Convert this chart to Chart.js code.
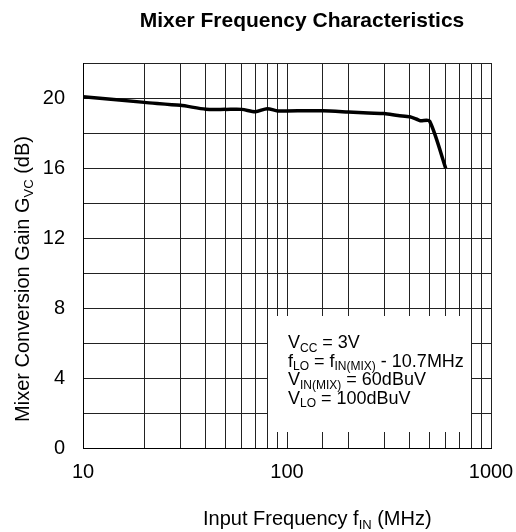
<!DOCTYPE html>
<html>
<head>
<meta charset="utf-8">
<script src="https://cdn.jsdelivr.net/npm/chart.js@4/dist/chart.umd.min.js"></script>
<style>
  html, body { margin: 0; padding: 0; background: #fff; }
  #wrap { width: 516px; height: 532px; }
</style>
</head>
<body>
<div id="wrap"><canvas id="mixer-chart" width="516" height="532"></canvas></div>
<script>
// data
const freqMHz = [10, 20, 30, 40, 50, 60, 70, 80, 90, 100, 150, 200, 250, 300, 350, 400, 430, 450, 500, 600];
const gainDb  = [20.07, 19.75, 19.58, 19.36, 19.35, 19.35, 19.22, 19.39, 19.26, 19.26, 19.27, 19.2, 19.14, 19.11, 19.0, 18.93, 18.8, 18.7, 18.68, 15.98];
const xTickLabels = [10, 100, 1000];
const yTickLabels = [0, 4, 8, 12, 16, 20];

const FONT = '"Liberation Sans", Arial, sans-serif';

// draw a run of text pieces, some as subscripts
function drawRich(ctx, parts, x, y, size, align) {
  const subSize = Math.round(size * 0.65);
  let total = 0;
  parts.forEach(p => {
    ctx.font = (p.sub ? subSize : size) + 'px ' + FONT;
    p.w = ctx.measureText(p.t).width;
    total += p.w;
  });
  let cx = align === 'center' ? x - total / 2 : x;
  ctx.textAlign = 'left';
  ctx.textBaseline = 'alphabetic';
  parts.forEach(p => {
    ctx.font = (p.sub ? subSize : size) + 'px ' + FONT;
    ctx.fillText(p.t, cx, p.sub ? y + size * 0.22 : y);
    cx += p.w;
  });
}

const labelsPlugin = {
  id: 'labels',
  afterDatasetsDraw(chart) {
    const ctx = chart.ctx;
    ctx.save();
    ctx.fillStyle = '#000';

    // title
    ctx.font = 'bold 21px ' + FONT;
    ctx.textAlign = 'center';
    ctx.textBaseline = 'middle';
    ctx.fillText('Mixer Frequency Characteristics', 302, 21);

    // conditions box
    ctx.fillStyle = '#fff';
    ctx.fillRect(268, 316, 203, 116);
    ctx.fillStyle = '#000';
    drawRich(ctx, [{t: 'V'}, {t: 'CC', sub: true}, {t: ' = 3V'}], 288, 348, 18);
    drawRich(ctx, [{t: 'f'}, {t: 'LO', sub: true}, {t: ' = f'}, {t: 'IN(MIX)', sub: true}, {t: ' - 10.7MHz'}], 288, 366.5, 18);
    drawRich(ctx, [{t: 'V'}, {t: 'IN(MIX)', sub: true}, {t: ' = 60dBuV'}], 288, 385, 18);
    drawRich(ctx, [{t: 'V'}, {t: 'LO', sub: true}, {t: ' = 100dBuV'}], 288, 403.5, 18);

    // x axis title
    drawRich(ctx, [{t: 'Input Frequency f'}, {t: 'IN', sub: true}, {t: ' (MHz)'}], 203, 525, 20);

    // y axis title
    ctx.translate(29, 279);
    ctx.rotate(-Math.PI / 2);
    drawRich(ctx, [{t: 'Mixer Conversion Gain G'}, {t: 'VC', sub: true}, {t: ' (dB)'}], 0, 0, 20, 'center');
    ctx.restore();
  }
};

const ctx = document.getElementById('mixer-chart').getContext('2d');
const mixerChart = new Chart(ctx, {
  type: 'line',
  data: {
    datasets: [{
      data: freqMHz.map((f, i) => ({ x: f, y: gainDb[i] })),
      borderColor: '#000',
      borderWidth: 3.5,
      pointRadius: 0,
      tension: 0.25,
      fill: false
    }]
  },
  options: {
    responsive: false,
    animation: false,
    layout: { padding: { left: 0, top: 63, right: 25, bottom: 0 } },
    plugins: { legend: { display: false }, tooltip: { enabled: false }, title: { display: false } },
    scales: {
      x: {
        type: 'logarithmic',
        min: 10,
        max: 1000,
        afterFit(scale) {
          scale.height = 84;
          scale.paddingLeft = 0;
          scale.paddingRight = 0;
        },
        grid: { color: '#222', lineWidth: 1, drawTicks: false },
        border: { color: '#000', width: 1 },
        ticks: {
          autoSkip: false,
          maxRotation: 0,
          padding: 12,
          color: '#000',
          font: { family: FONT, size: 20 },
          callback: v => xTickLabels.includes(v) ? String(v) : ''
        }
      },
      y: {
        min: 0,
        max: 22,
        afterFit(scale) {
          scale.width = 83;
          scale.paddingTop = 0;
          scale.paddingBottom = 0;
        },
        grid: { color: '#222', lineWidth: 1, drawTicks: false },
        border: { color: '#000', width: 1 },
        ticks: {
          stepSize: 2,
          padding: 18,
          color: '#000',
          font: { family: FONT, size: 20 },
          callback: v => yTickLabels.includes(v) ? String(v) : ''
        }
      }
    }
  },
  plugins: [labelsPlugin]
});
</script>
</body>
</html>
